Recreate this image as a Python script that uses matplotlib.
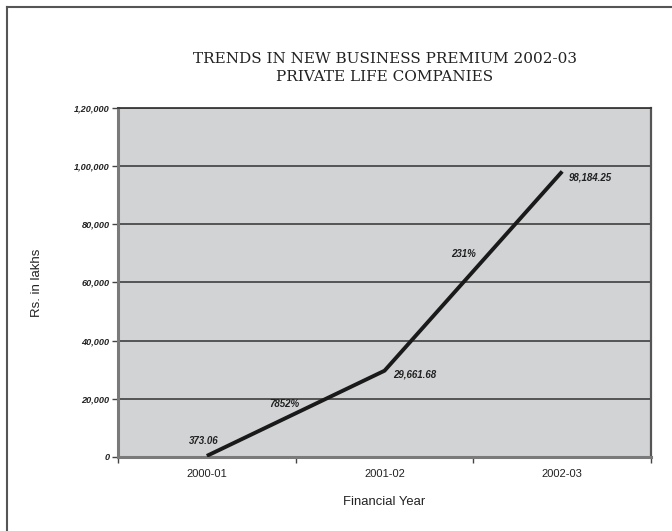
import matplotlib
matplotlib.use("Agg")
import matplotlib.pyplot as plt
from matplotlib.lines import Line2D
from matplotlib.ticker import FuncFormatter, FixedLocator

# new business premium, Rs. in lakhs
years = ["2000-01", "2001-02", "2002-03"]
premium = [373.06, 29661.68, 98184.25]
growth = ["7852%", "231%"]


def indian_format(v):
    # 120000 -> 1,20,000 ; 98184.25 -> 98,184.25
    whole = int(round(v)) if float(v).is_integer() else int(v)
    frac = "" if float(v).is_integer() else "%.2f" % (v - whole)
    s = str(whole)
    if len(s) > 3:
        head, tail = s[:-3], s[-3:]
        parts = []
        while len(head) > 2:
            parts.insert(0, head[-2:])
            head = head[:-2]
        if head:
            parts.insert(0, head)
        s = ",".join(parts) + "," + tail
    return s + frac[1:] if frac else s


fig = plt.figure(figsize=(6.72, 5.31), dpi=100)
ax = fig.add_axes([0.1756, 0.1394, 0.7932, 0.6572])
ax.set_facecolor("#d2d3d5")

x = list(range(len(years)))
ax.plot(x, premium, color="#1a1a1a", lw=2.8, solid_capstyle="butt", zorder=3)

ax.set_xlim(-0.5, len(years) - 0.5)
ax.set_ylim(0, 120000)
ax.yaxis.set_major_locator(FixedLocator(range(0, 120001, 20000)))
ax.yaxis.set_major_formatter(FuncFormatter(lambda v, p: indian_format(v)))
ax.grid(axis="y", color="#4a4a4a", lw=1.3, zorder=1)
ax.set_axisbelow(True)

ax.set_xticks(x)
ax.set_xticklabels(years, fontsize=8, family="Liberation Sans", color="#222222")
ax.tick_params(axis="x", which="major", length=0, pad=9)
ax.set_xticks([-0.5, 0.5, 1.5, 2.5], minor=True)
ax.tick_params(axis="x", which="minor", length=4, width=1, color="#444444", direction="out")
ax.tick_params(axis="y", length=4, width=1, color="#444444", pad=2)
for lab in ax.get_yticklabels():
    lab.set_fontsize(6.6)
    lab.set_family("Liberation Sans")
    lab.set_fontweight("bold")
    lab.set_fontstyle("italic")
    lab.set_color("#222222")

for side in ["left", "bottom"]:
    ax.spines[side].set_color("#7a7a7a")
    ax.spines[side].set_linewidth(2.2)
ax.spines["right"].set_color("#555555")
ax.spines["right"].set_linewidth(1.6)
ax.spines["top"].set_color("#3a3a3a")
ax.spines["top"].set_linewidth(1.3)

# value labels at each point
lbl_style = dict(fontsize=7, family="Liberation Sans", fontweight="bold",
                 fontstyle="italic", color="#222222", textcoords="offset points")
ax.annotate(indian_format(premium[0]), (x[0], premium[0]), xytext=(-2, 11),
            ha="center", va="center", **lbl_style)
ax.annotate(indian_format(premium[1]), (x[1], premium[1]), xytext=(6, -3),
            ha="left", va="center", **lbl_style)
ax.annotate(indian_format(premium[2]), (x[2], premium[2]), xytext=(5, -4),
            ha="left", va="center", **lbl_style)

# growth labels beside each segment
offsets = [(-8, 7), (-7, 12)]
for i, g in enumerate(growth):
    mx = (x[i] + x[i + 1]) / 2
    my = (premium[i] + premium[i + 1]) / 2
    ax.annotate(g, (mx, my), xytext=offsets[i], ha="center", va="center", **lbl_style)

ax.set_ylabel("Rs. in lakhs", fontsize=9.5, family="Liberation Sans", color="#222222", labelpad=22)
ax.set_xlabel("Financial Year", fontsize=9.4, family="Liberation Sans", color="#222222", labelpad=12)

fig.text(0.573, 0.889, "TRENDS IN NEW BUSINESS PREMIUM 2002-03", ha="center", va="center",
         fontsize=11, family="DejaVu Serif", color="#222222")
fig.text(0.573, 0.855, "PRIVATE LIFE COMPANIES", ha="center", va="center",
         fontsize=11, family="DejaVu Serif", color="#222222")

# page frame along the left and top edges
fig.add_artist(Line2D([6.5 / 672, 6.5 / 672], [0, 1 - 6.5 / 531], transform=fig.transFigure,
                      color="#555555", lw=1.5))
fig.add_artist(Line2D([6.5 / 672, 1], [1 - 6.5 / 531, 1 - 6.5 / 531], transform=fig.transFigure,
                      color="#555555", lw=1.5))

fig.savefig("out.png", dpi=100, facecolor="white")
